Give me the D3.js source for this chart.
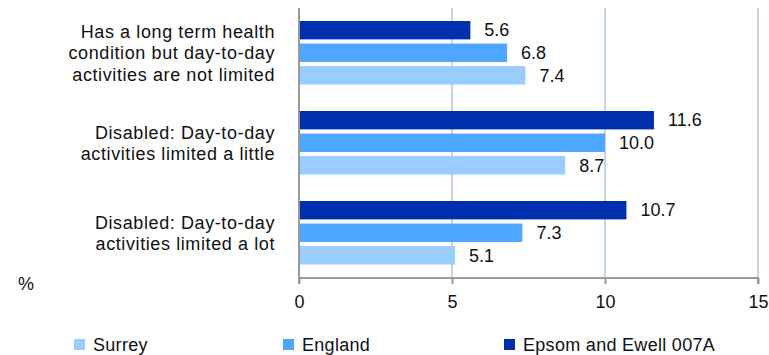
<!DOCTYPE html>
<html><head><meta charset="utf-8">
<script src="https://cdn.jsdelivr.net/npm/d3@7"></script>
<style>body{margin:0;background:#fff;} svg{display:block;font-family:"Liberation Sans",Arial,sans-serif;}</style>
</head><body>
<svg id="c" width="769" height="355"></svg>
<script>
const categories = [
  ["Has a long term health", "condition but day-to-day", "activities are not limited"],
  ["Disabled: Day-to-day", "activities limited a little"],
  ["Disabled: Day-to-day", "activities limited a lot"]
];
const seriesNames = ["Epsom and Ewell 007A", "England", "Surrey"];
const epsom = [5.6, 11.6, 10.7];
const england = [6.8, 10.0, 7.3];
const surrey = [7.4, 8.7, 5.1];
const xTicks = [0, 5, 10, 15];
const colors = {"Epsom and Ewell 007A": "#002fae", "England": "#4da6ff", "Surrey": "#99ccff"};
const legendOrder = ["Surrey", "England", "Epsom and Ewell 007A"];

const values = {"Epsom and Ewell 007A": epsom, "England": england, "Surrey": surrey};
const svg = d3.select("#c");
const pLeft = 299, pRight = 758, pTop = 8, pBottom = 278;
const FS = 18;
const x = d3.scaleLinear().domain([0, 15]).range([pLeft, pRight]);
const y0 = d3.scaleBand().domain(d3.range(categories.length)).range([pTop, pBottom]).paddingInner(0).paddingOuter(0);
const y1 = d3.scaleBand().domain(seriesNames).range([13, 76.5]).paddingInner(0.185);

// gridlines
svg.append("g").selectAll("line").data(xTicks.slice(1)).join("line")
  .attr("x1", d => x(d)).attr("x2", d => x(d)).attr("y1", pTop).attr("y2", pBottom)
  .attr("stroke", "#c5d5ea").attr("stroke-width", 2);

// bars
categories.forEach((c, i) => {
  const g = svg.append("g").attr("transform", `translate(0,${y0(i)})`);
  seriesNames.forEach(s => {
    const v = values[s][i];
    g.append("rect").attr("x", x(0)).attr("y", y1(s)).attr("width", x(v) - x(0)).attr("height", y1.bandwidth())
      .attr("fill", colors[s]);
    g.append("text").attr("x", x(v) + 14).attr("y", y1(s) + y1.bandwidth() / 2).attr("dy", "0.35em")
      .attr("font-size", FS).attr("fill", "#111").text(v.toFixed(1));
  });
  const cy = y0(i) + y0.bandwidth() / 2;
  const lh = 21.5;
  const t = svg.append("text").attr("text-anchor", "end").attr("font-size", FS).attr("letter-spacing", "0.6px").attr("fill", "#111");
  c.forEach((line, k) => {
    t.append("tspan").attr("x", 275).attr("y", cy + (k - (c.length - 1) / 2) * lh).attr("dy", "0.35em").text(line);
  });
});

// axes
const xa = svg.append("g").attr("transform", `translate(0,${pBottom})`)
  .call(d3.axisBottom(x).tickValues(xTicks).tickSize(6).tickPadding(11).tickFormat(d3.format("d")));
xa.select(".domain").attr("stroke", "#999").attr("stroke-width", 2).attr("d", `M${pLeft},6V0H${pRight}V6`);
xa.selectAll(".tick line").attr("stroke", "#999").attr("stroke-width", 2);
xa.selectAll(".tick text").attr("font-size", FS).attr("fill", "#111").attr("font-family", "Liberation Sans, Arial, sans-serif");
svg.append("line").attr("x1", pLeft).attr("x2", pLeft).attr("y1", pTop).attr("y2", pBottom).attr("stroke", "#999").attr("stroke-width", 2);

svg.append("text").attr("x", 18).attr("y", 284).attr("dy", "0.35em").attr("font-size", FS).attr("fill", "#111").text("%");

// legend
const legendX = [74, 283, 504];
legendOrder.forEach((s, i) => {
  svg.append("rect").attr("x", legendX[i]).attr("y", 339).attr("width", 11).attr("height", 11).attr("fill", colors[s]);
  svg.append("text").attr("x", legendX[i] + 19).attr("y", 345).attr("dy", "0.35em").attr("font-size", FS).attr("letter-spacing", "0.3px").attr("fill", "#111").text(s);
});
</script>
</body></html>
